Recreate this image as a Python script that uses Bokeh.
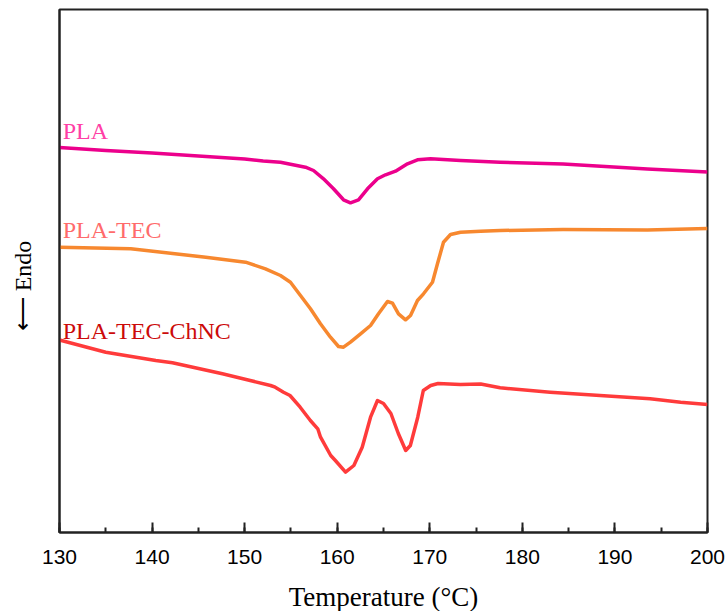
from bokeh.plotting import figure
from bokeh.models import SingleIntervalTicker, FixedTicker, Range1d, Label
from bokeh.embed import file_html
from bokeh.resources import INLINE

# DSC curves: temperature (°C) and heat flow (a.u., endo down)
pla_T = [130, 135, 140, 145, 150, 152, 153.87, 156.57, 157.44, 158.52, 159.6, 160.68, 161.43,
         162.3, 163.27, 164.35, 165.22, 166.3, 167.59, 168.67, 170.08, 173.32, 177.6, 184.4,
         193.5, 200]
pla_H = [385, 382, 379.5, 376.5, 373.5, 371.5, 370.3, 365.3, 362, 353.7, 343.7, 332.7, 329.7,
         332.7, 343.7, 353.7, 357.7, 361.3, 368.7, 372.7, 373.7, 372, 370.3, 368.5,
         363.5, 360.5]

tec_T = [130, 137.7, 145.8, 150.1, 152.25, 153.87, 154.95, 156.03, 157.11, 158.19, 159.27,
         160.14, 160.68, 161.43, 162.52, 163.6, 164.46, 165.43, 165.97, 166.62, 167.38, 167.92,
         168.67, 169.32, 170.29, 170.83, 171.48, 172.24, 173.32, 175.48, 177.6, 184.4, 193.5, 200]
tec_H = [285.3, 283.7, 275.3, 270.3, 263.7, 257, 250.3, 237, 223.7, 208.7, 195.3,
         186, 185.3, 190.3, 198.7, 207, 218.7, 231, 229.3, 218.7, 212.7, 217,
         232, 238.7, 250.3, 268.7, 290.3, 298, 300.3, 301.3, 302, 303, 302.5, 304]

chnc_T = [130, 135.0, 140.4, 142.2, 147.6, 150.6, 152.8, 153.3, 154.2, 154.9, 156.0, 157.1,
          157.9, 158.2, 159.3, 159.8, 160.9, 161.8, 162.7, 163.6, 164.35, 165.0, 165.8,
          166.6, 167.4, 167.9, 168.7, 169.3, 170.1, 170.9, 173.3, 175.5, 177.6, 183.0,
          188.4, 193.8, 197.1, 200]
chnc_H = [192.5, 180.3, 172, 169.7, 158.7, 152, 147, 145.3, 140.3, 137, 125.3, 112,
          103.7, 95.3, 77, 72, 60.3, 67, 85.3, 115.3, 132, 129, 119,
          99, 82, 87, 115.3, 142, 147, 149, 148, 148.5, 144.7, 140.3,
          137, 133.7, 130.3, 128]

names = ["PLA", "PLA-TEC", "PLA-TEC-ChNC"]
line_colors = ["#ec008c", "#f7882f", "#ff3b3b"]
label_colors = ["#ff3fa6", "#ff6b6b", "#cc0a0a"]
label_y = [402, 303, 202]

p = figure(output_backend="svg", toolbar_location=None,
           frame_width=648, frame_height=523,
           min_border_left=59, min_border_right=20, min_border_top=9, min_border_bottom=79,
           x_range=Range1d(130, 200), y_range=Range1d(0, 523))
p.background_fill_color = "white"
p.border_fill_color = "white"
p.grid.visible = False
p.outline_line_color = "#222222"
p.outline_line_width = 2

for T, H, c in zip([pla_T, tec_T, chnc_T], [pla_H, tec_H, chnc_H], line_colors):
    p.line(T, H, line_color=c, line_width=3.5, line_join="round")

for n, c, y in zip(names, label_colors, label_y):
    p.add_layout(Label(x=130.35, y=y, text=n, text_color=c, text_font="Liberation Serif",
                       text_font_size="24px", text_baseline="alphabetic"))

xa = p.xaxis[0]
xa.ticker = SingleIntervalTicker(interval=10, num_minor_ticks=2)
xa.major_tick_in = 10
xa.major_tick_out = 0
xa.minor_tick_in = 5
xa.minor_tick_out = 0
xa.axis_line_color = "#222222"
xa.axis_line_width = 2
xa.major_tick_line_color = "#222222"
xa.minor_tick_line_color = "#222222"
xa.major_tick_line_width = 2
xa.minor_tick_line_width = 2
xa.major_label_text_font = "Liberation Sans"
xa.major_label_text_font_size = "21px"
xa.major_label_text_color = "black"
xa.major_label_standoff = 17
xa.axis_label = "Temperature (°C)"
xa.axis_label_text_font = "Liberation Serif"
xa.axis_label_text_font_size = "27px"
xa.axis_label_text_font_style = "normal"
xa.axis_label_text_color = "black"
xa.axis_label_standoff = 15

ya = p.yaxis[0]
ya.ticker = FixedTicker(ticks=[])
ya.major_tick_line_color = None
ya.minor_tick_line_color = None
ya.major_label_standoff = 0
ya.axis_line_color = "#222222"
ya.axis_line_width = 2
ya.axis_label = "\u27f5 Endo\u00a0\u00a0\u00a0\u00a0\u00a0"
ya.axis_label_text_font = "Liberation Serif"
ya.axis_label_text_font_size = "24px"
ya.axis_label_text_font_style = "normal"
ya.axis_label_text_color = "black"
ya.axis_label_standoff = 24

open("out.html", "w").write(file_html(p, INLINE))
